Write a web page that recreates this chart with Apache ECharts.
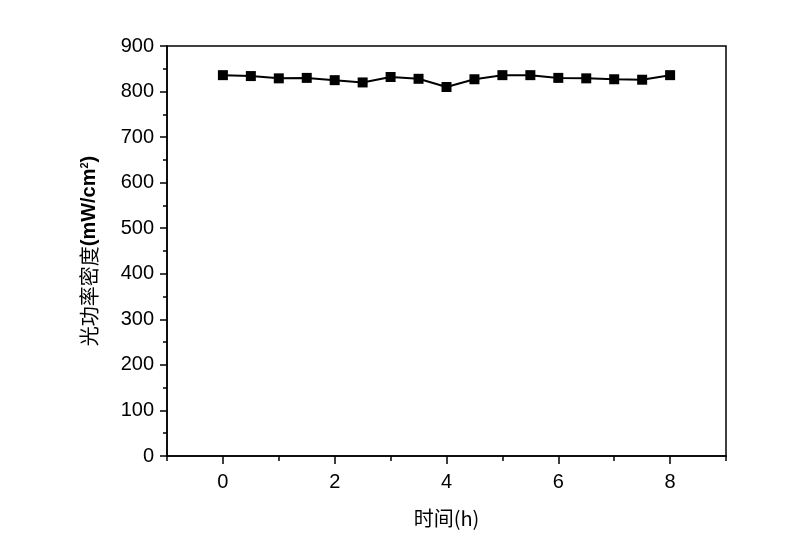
<!DOCTYPE html>
<html><head><meta charset="utf-8">
<script src="https://cdn.jsdelivr.net/npm/echarts@6/dist/echarts.min.js"></script>
<style>html,body{margin:0;padding:0;background:#fff}#c{width:800px;height:560px}</style>
</head><body><div id="c"></div>
<script>
var hours = [0,0.5,1,1.5,2,2.5,3,3.5,4,4.5,5,5.5,6,6.5,7,7.5,8];
var power = [836,834,829,830,825,820,832,828,810,827,836,836,830,829,827,826,836];
var xMajorTicks = [0,2,4,6,8];
var xMinorTicks = [-1,1,3,5,7,9];
var xName = '时间(h)';
var yName = '光功率密度';

var font = 'Liberation Sans, Arial, sans-serif';
var cjk = 'Noto Sans CJK SC';
var chart = echarts.init(document.getElementById('c'));
var data = hours.map(function(h,i){return [h, power[i]];});
chart.setOption({
  animation:false,
  backgroundColor:'#fff',
  grid:{left:167,right:74,top:46,bottom:104,show:true,borderColor:'#000',borderWidth:1.5,backgroundColor:'transparent'},
  xAxis:[{
    type:'value',min:-1,max:9,interval:1,position:'bottom',
    axisLine:{onZero:false,lineStyle:{color:'#000',width:1.5}},
    axisTick:{length:8,customValues:xMajorTicks,lineStyle:{color:'#000',width:1.5}},
    axisLabel:{customValues:xMajorTicks,color:'#000',fontSize:20,fontFamily:font,margin:16},
    splitLine:{show:false},
    name:xName,nameLocation:'middle',nameGap:52,
    nameTextStyle:{color:'#000',fontSize:20,fontFamily:cjk}
  },{
    type:'value',min:-1,max:9,interval:1,position:'bottom',gridIndex:0,
    axisLine:{show:false,onZero:false},
    axisTick:{length:5,customValues:xMinorTicks,lineStyle:{color:'#000',width:1.5}},
    axisLabel:{show:false},splitLine:{show:false}
  }],
  yAxis:{
    type:'value',min:0,max:900,interval:100,position:'left',
    axisLine:{show:true,onZero:false,lineStyle:{color:'#000',width:1.5}},
    axisTick:{length:7,lineStyle:{color:'#000',width:1.5}},
    minorTick:{show:true,splitNumber:2,length:4,lineStyle:{color:'#000',width:1.5}},
    axisLabel:{color:'#000',fontSize:20,fontFamily:font,margin:13},
    splitLine:{show:false},
    name:'{a|'+yName+'}{b|(mW/cm}{s|2}{b|)}',nameLocation:'middle',nameGap:68,nameRotate:90,
    nameTextStyle:{rich:{
      a:{fontFamily:cjk,fontSize:20,color:'#000'},
      b:{fontFamily:font,fontSize:20,fontWeight:'bold',color:'#000'},
      s:{fontFamily:font,fontSize:11,fontWeight:'bold',color:'#000',verticalAlign:'top'}
    }}
  },
  series:[{
    type:'line',xAxisIndex:0,data:data,symbol:'rect',symbolSize:10,
    lineStyle:{color:'#000',width:2},itemStyle:{color:'#000'}
  }]
});
</script></body></html>
